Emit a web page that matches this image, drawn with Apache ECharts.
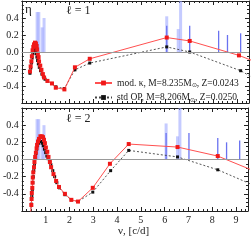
<!DOCTYPE html>
<html><head><meta charset="utf-8">
<script src="https://cdn.jsdelivr.net/npm/echarts@6/dist/echarts.min.js"></script>
<style>html,body{margin:0;padding:0;background:#fff}#c{width:251px;height:242px}</style>
</head><body><div id="c"></div>
<script>
// observed frequencies (blue bars): freq, height, type (0 light wide, 1 dark thin)
const obsFreq = [0.64, 0.71, 0.85, 0.93, 6.06, 6.06, 6.54, 6.64, 7.02, 8.23, 8.60, 9.15];
const obsAmp  = [0.47, 0.47, 0.29, 0.40, 0.42, 0.31, 0.27, 0.75, 0.31, 0.25, 0.20, 0.22];
const obsType = [0, 0, 0, 0, 0, 1, 0, 0, 1, 1, 1, 1];

// l = 1
const l1ModNu  = [0.34,0.37,0.40,0.42,0.45,0.48,0.51,0.55,0.59,0.62,0.64,0.67,0.70,0.72,0.77,0.82,0.88,0.93,1.07,1.26,1.42,1.78,2.22,2.84,6.06,7.02,9.08,9.9];
const l1ModEta = [-0.23,-0.17,-0.11,-0.05,0.02,0.06,0.09,0.11,0.10,0.07,0.03,-0.02,-0.06,-0.11,-0.16,-0.21,-0.26,-0.30,-0.34,-0.37,-0.42,-0.44,-0.18,-0.08,0.17,0.13,-0.04,-0.13];
const l1StdNu  = [0.34,0.37,0.40,0.43,0.46,0.49,0.53,0.57,0.60,0.63,0.66,0.69,0.73,0.78,0.84,0.90,0.97,1.07,1.26,1.42,1.78,2.22,2.84,6.06,7.02,9.15,9.9];
const l1StdEta = [-0.25,-0.19,-0.13,-0.07,-0.02,0.02,0.04,0.02,-0.02,-0.06,-0.10,-0.14,-0.18,-0.22,-0.26,-0.29,-0.32,-0.34,-0.37,-0.41,-0.43,-0.21,-0.13,0.06,0.00,-0.22,-0.34];

// l = 2
const l2ModNu  = [0.35,0.37,0.40,0.41,0.42,0.44,0.45,0.46,0.48,0.51,0.53,0.56,0.59,0.62,0.64,0.68,0.72,0.78,0.84,0.89,0.93,0.97,1.01,1.07,1.12,1.18,1.23,1.33,1.44,1.56,1.81,2.08,2.36,2.98,3.70,4.49,6.54,8.23,9.9];
const l2ModEta = [-0.70,-0.61,-0.53,-0.46,-0.39,-0.33,-0.27,-0.21,-0.15,-0.09,-0.03,0.03,0.08,0.13,0.17,0.21,0.24,0.27,0.27,0.26,0.23,0.19,0.14,0.09,0.03,-0.03,-0.09,-0.17,-0.25,-0.32,-0.40,-0.47,-0.49,-0.33,-0.05,0.18,0.145,0.04,-0.15];
const l2StdNu  = [0.37,0.40,0.42,0.44,0.46,0.48,0.50,0.53,0.56,0.59,0.62,0.66,0.70,0.75,0.80,0.85,0.90,0.95,1.00,1.05,1.10,1.16,1.22,1.30,1.38,1.47,1.58,1.81,2.08,2.36,2.98,3.73,4.49,6.54,8.23,9.9];
const l2StdEta = [-0.62,-0.52,-0.43,-0.35,-0.27,-0.20,-0.13,-0.06,0.01,0.07,0.12,0.16,0.19,0.21,0.21,0.19,0.16,0.12,0.08,0.04,0.01,-0.02,-0.06,-0.13,-0.20,-0.27,-0.33,-0.41,-0.47,-0.49,-0.38,-0.13,0.106,0.03,-0.12,-0.32];

const xTicks = [1,2,3,4,5,6,7,8,9];
const yTicks = [-0.4,-0.2,0,0.2,0.4];

const MOD = 'mod. κ, M=8.235M⊙, Z=0.0243';
const STD = 'std OP, M=8.206M⊙, Z=0.0250';

const zip = (a, b) => a.map((v, i) => [v, b[i]]);
const obsData = obsFreq.map((f, i) => [f, obsAmp[i], obsType[i]]);

const FONT = 'Liberation Serif';
const AX = '#222';

function xAx(g, pos, labels) {
  return {
    type: 'value', gridIndex: g, position: pos, min: 0, max: 9.5, interval: 1,
    axisLine: {show: true, onZero: false, lineStyle: {color: AX, width: 1}},
    axisTick: {show: true, inside: true, length: 4, lineStyle: {color: AX}},
    minorTick: {show: true, splitNumber: 5, length: 2, lineStyle: {color: AX}},
    splitLine: {show: false},
    axisLabel: {show: labels, margin: 4, color: AX, fontFamily: FONT, fontSize: 10,
      formatter: v => (xTicks.indexOf(v) >= 0 ? String(v) : '')}
  };
}
function yAx(g, pos, labels) {
  return {
    type: 'value', gridIndex: g, position: pos, min: -0.6, max: 0.6, interval: 0.2,
    axisLine: {show: true, onZero: false, lineStyle: {color: AX, width: 1}},
    axisTick: {show: true, inside: true, length: 4, lineStyle: {color: AX}},
    minorTick: {show: true, splitNumber: 4, length: 2, lineStyle: {color: AX}},
    splitLine: {show: false},
    axisLabel: {show: labels, margin: 3, color: AX, fontFamily: FONT, fontSize: 10,
      formatter: v => {
        const r = Math.round(v * 10) / 10;
        return yTicks.some(t => Math.abs(t - r) < 1e-9) && Math.abs(v - r) < 1e-9 ? r.toFixed(1) : '';
      }}
  };
}

function bars(g) {
  return {
    type: 'custom', xAxisIndex: g * 2, yAxisIndex: g * 2, clip: true, silent: true, z: 1,
    data: obsData,
    renderItem: (params, api) => {
      const f = api.value(0), h = api.value(1), t = api.value(2);
      const p0 = api.coord([f, 0]), p1 = api.coord([f, h]);
      const top = Math.max(p1[1], params.coordSys.y);
      const w = t ? 1.3 : 3;
      return {type: 'rect', shape: {x: p0[0] - w / 2, y: top, width: w, height: p0[1] - top},
        style: {fill: t ? '#6a72f0' : 'rgba(150,160,255,0.55)'}};
    }
  };
}
function zeroLine(g) {
  return {
    type: 'line', xAxisIndex: g * 2, yAxisIndex: g * 2, data: [], silent: true, z: 2,
    markLine: {silent: true, symbol: 'none', label: {show: false},
      lineStyle: {color: '#999', width: 1.2, type: 'solid'},
      data: [{yAxis: 0}], animation: false}
  };
}
function modSeries(g, data, named) {
  return {
    name: named ? MOD : undefined, type: 'line', xAxisIndex: g * 2, yAxisIndex: g * 2,
    data: data, clip: true, z: 4, symbol: 'rect', symbolSize: 4,
    itemStyle: {color: '#f01818'}, lineStyle: {color: '#ff5050', width: 1}
  };
}
function stdSeries(g, data, named) {
  return {
    name: named ? STD : undefined, type: 'line', xAxisIndex: g * 2, yAxisIndex: g * 2,
    data: data, clip: true, z: 3, symbol: 'rect', symbolSize: 3,
    itemStyle: {color: '#111'}, lineStyle: {color: '#444', width: 0.9, type: [2, 2]}
  };
}

const chart = echarts.init(document.getElementById('c'), null, {renderer: 'canvas'});
chart.setOption({
  animation: false,
  grid: [
    {left: 18, top: 1, width: 231, height: 102},
    {left: 18, top: 108, width: 231, height: 103}
  ],
  xAxis: [xAx(0, 'bottom', false), xAx(0, 'top', false), xAx(1, 'bottom', true), xAx(1, 'top', false)],
  yAxis: [yAx(0, 'left', true), yAx(0, 'right', false), yAx(1, 'left', true), yAx(1, 'right', false)],
  legend: {
    orient: 'vertical', left: 89, top: 73, itemWidth: 17, itemHeight: 6, itemGap: 4,
    data: [MOD, STD],
    textStyle: {fontFamily: FONT, fontSize: 9.5, color: '#222',
      rich: {s: {fontFamily: FONT, fontSize: 6, color: '#222', padding: [5, 0, 0, 0]}}},
    formatter: n => n.replace('⊙', '{s|⊙}')
  },
  graphic: [
    {type: 'text', left: 25, top: 3, style: {text: 'η', font: '13px "Liberation Serif"', fill: '#222'}},
    {type: 'text', left: 66, top: 5, style: {text: 'ℓ = 1', font: '12px "Liberation Serif"', fill: '#222'}},
    {type: 'text', left: 66, top: 113, style: {text: 'ℓ = 2', font: '12px "Liberation Serif"', fill: '#222'}},
    {type: 'text', left: 118, top: 226, style: {text: 'ν, [c/d]', font: '11px "Liberation Serif"', fill: '#222'}}
  ],
  series: [
    bars(0), zeroLine(0), stdSeries(0, zip(l1StdNu, l1StdEta), true), modSeries(0, zip(l1ModNu, l1ModEta), true),
    bars(1), zeroLine(1), stdSeries(1, zip(l2StdNu, l2StdEta), false), modSeries(1, zip(l2ModNu, l2ModEta), false)
  ]
});
</script></body></html>
